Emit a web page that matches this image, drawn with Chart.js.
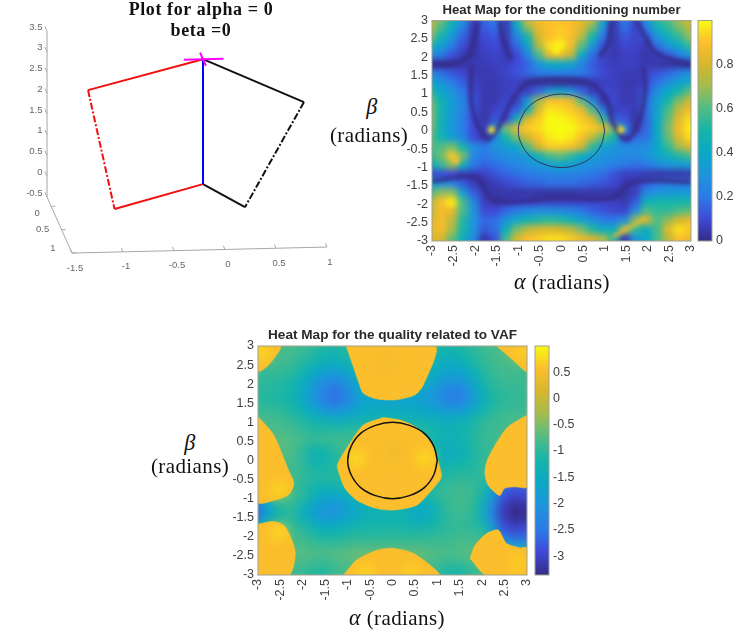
<!DOCTYPE html>
<html>
<head>
<meta charset="utf-8">
<title>Heat maps</title>
<script src="https://cdn.jsdelivr.net/npm/chart.js@4/dist/chart.umd.min.js"></script>
<style>
  body { margin: 0; background: #fff; }
  #page { position: relative; width: 747px; height: 632px; overflow: hidden; }
  canvas { position: absolute; }
  .tex { position: absolute; font-family: "Liberation Serif", serif; color: #111; white-space: nowrap; text-align: center; transform: translateX(-50%); font-size: 21px; line-height: 24px; letter-spacing: .4px; }
  .tex i { font-size: 1.05em; }
</style>
</head>
<body>
<div id="page">
  <canvas id="robot" width="345" height="290" style="left:0;top:0"></canvas>
  <canvas id="condMap" width="315" height="292" style="left:395px;top:0"></canvas>
  <canvas id="condBar" width="50" height="292" style="left:697px;top:0"></canvas>
  <canvas id="vafMap" width="325" height="288" style="left:221px;top:326px"></canvas>
  <canvas id="vafBar" width="50" height="288" style="left:534px;top:326px"></canvas>

  <div class="tex" style="left:201px;top:-1px;font-size:18px;font-weight:bold;line-height:21px;letter-spacing:.6px">Plot for alpha = 0<br>beta =0</div>
  <div class="tex" style="left:372px;top:95px"><i>β</i></div>
  <div class="tex" style="left:369px;top:123px">(radians)</div>
  <div class="tex" style="left:562px;top:270px"><i>α</i> (radians)</div>
  <div class="tex" style="left:190px;top:431px"><i>β</i></div>
  <div class="tex" style="left:190px;top:454px">(radians)</div>
  <div class="tex" style="left:397px;top:606px"><i>α</i> (radians)</div>
</div>

<script>
// grid of the heat maps
const alphaGrid = [-3,-2.75,-2.5,-2.25,-2,-1.75,-1.5,-1.25,-1,-.75,-.5,-.25,0,.25,.5,.75,1,1.25,1.5,1.75,2,2.25,2.5,2.75,3];
const betaGrid = [3,2.75,2.5,2.25,2,1.75,1.5,1.25,1,.75,.5,.25,0,-.25,-.5,-.75,-1,-1.25,-1.5,-1.75,-2,-2.25,-2.5,-2.75,-3];
const angleTicks = [-3,-2.5,-2,-1.5,-1,-.5,0,.5,1,1.5,2,2.5,3];

// conditioning number, one row per beta
const condRows = [
  [.8,.65,.5,.3,.08,.18,.22,.08,.5,.82,.88,.9,.9,.88,.85,.8,.45,.07,.22,.1,.32,.55,.6,.72,.82],
  [.75,.58,.42,.22,.06,.14,.18,.06,.38,.68,.85,.9,.92,.9,.82,.65,.3,.06,.18,.08,.22,.45,.55,.65,.75],
  [.65,.48,.32,.15,.05,.1,.13,.06,.25,.5,.8,.9,.93,.9,.75,.5,.2,.05,.13,.08,.13,.3,.45,.55,.68],
  [.5,.36,.22,.1,.04,.08,.1,.06,.16,.38,.72,.95,1,.88,.62,.34,.12,.05,.09,.08,.06,.18,.3,.42,.55],
  [.28,.2,.12,.06,.04,.07,.08,.06,.1,.24,.58,.85,.88,.78,.42,.18,.08,.05,.07,.07,.04,.08,.14,.22,.32],
  [.03,.03,.03,.04,.05,.06,.07,.07,.1,.16,.3,.42,.42,.38,.25,.14,.08,.06,.07,.07,.05,.04,.03,.03,.04],
  [.25,.18,.13,.09,.06,.05,.06,.08,.12,.16,.2,.22,.22,.22,.2,.15,.1,.07,.06,.05,.08,.12,.16,.22,.28],
  [.4,.3,.22,.14,.08,.05,.05,.07,.07,.05,.04,.03,.03,.03,.04,.06,.07,.07,.05,.05,.1,.18,.28,.36,.42],
  [.52,.4,.3,.2,.1,.05,.05,.07,.09,.07,.16,.32,.38,.3,.16,.06,.09,.08,.05,.06,.14,.28,.4,.5,.62],
  [.62,.46,.34,.24,.12,.05,.05,.09,.07,.32,.7,.9,.9,.85,.6,.25,.05,.09,.05,.06,.18,.34,.5,.66,.78],
  [.66,.48,.34,.24,.12,.04,.08,.11,.15,.45,.82,.97,.95,.92,.85,.6,.2,.07,.08,.05,.18,.38,.58,.76,.88],
  [.66,.46,.32,.22,.1,.04,.12,.1,.45,.82,.92,1,1,.97,.92,.82,.55,.15,.12,.04,.16,.4,.62,.84,.95],
  [.64,.45,.32,.22,.1,.06,.3,.65,.85,.92,.95,1,1,1,.95,.92,.85,.65,.25,.05,.16,.4,.65,.88,.98],
  [.6,.48,.36,.24,.1,.06,.25,.5,.65,.8,.9,.97,1,.97,.9,.75,.6,.5,.1,.18,.18,.4,.62,.82,.95],
  [.6,.6,.65,.5,.28,.2,.3,.35,.4,.6,.8,.92,.92,.9,.78,.55,.38,.32,.28,.25,.28,.4,.55,.7,.8],
  [.55,.64,.92,.65,.25,.2,.24,.28,.3,.35,.45,.58,.62,.55,.42,.35,.3,.28,.26,.26,.3,.38,.45,.52,.58],
  [.42,.55,.68,.45,.2,.15,.18,.22,.25,.28,.32,.36,.38,.36,.3,.28,.26,.22,.2,.18,.2,.25,.3,.32,.35],
  [.1,.1,.1,.08,.06,.07,.12,.15,.18,.2,.22,.24,.25,.24,.22,.2,.17,.12,.07,.07,.05,.04,.04,.04,.05],
  [.35,.3,.25,.14,.06,.04,.06,.09,.12,.15,.16,.18,.18,.18,.16,.14,.12,.09,.05,.06,.14,.2,.22,.22,.22],
  [.58,.68,.68,.35,.14,.06,.04,.04,.04,.04,.03,.03,.03,.03,.04,.04,.04,.04,.04,.07,.25,.3,.32,.33,.33],
  [.75,.9,.97,.58,.25,.07,.04,.06,.08,.08,.08,.08,.08,.08,.08,.08,.08,.07,.05,.14,.45,.5,.5,.5,.5],
  [.75,.88,.85,.58,.3,.1,.1,.16,.22,.26,.28,.28,.27,.24,.2,.15,.12,.09,.09,.28,.6,.55,.55,.6,.62],
  [.82,.88,.76,.52,.3,.16,.18,.3,.42,.48,.52,.54,.52,.46,.38,.28,.22,.2,.28,.68,.8,.6,.68,.8,.85],
  [.85,.88,.72,.5,.3,.13,.18,.44,.65,.75,.8,.82,.8,.75,.65,.52,.42,.45,.7,.55,.42,.58,.82,.96,.92],
  [.82,.8,.62,.44,.25,.04,.12,.58,.8,.9,.92,.95,.95,.92,.85,.8,.72,.55,.05,.3,.4,.58,.75,.9,.85]
];
// narrow low valleys of the conditioning number, [alpha, beta]
const condValleys = [
  [[-1.93,3],[-2.03,2.47],[-2.16,2.01],[-2.51,1.83],[-3,1.79]],
  [[-1.43,3],[-1.35,2.47],[-1.16,1.92]],
  [[-2.09,1.74],[-2.09,.84],[-1.93,.12],[-1.7,-.21],[-1.43,.16],[-1.12,.88],[-.77,1.31],[-.04,1.38],[.66,1.29],[1.04,.84],[1.2,.21],[1.51,-.23],[1.78,.21],[1.93,1.02],[1.9,1.74]],
  [[1.16,3],[1.08,2.38],[.89,2.01]],
  [[1.74,3],[1.93,2.56],[2.2,2.1],[2.98,1.79]],
  [[-3,-1.37],[-1.97,-1.28],[-1.58,-1.88],[-.04,-1.82],[1.2,-1.82],[1.66,-1.39],[3,-1.39]]
];
// small high spots, [alpha, beta, value]
const condPeaks = [[-1.62,.03,.95],[1.38,.03,.95],[-2.44,-.81,.9],[-2.58,-1.96,.95],[-.13,2.2,1]];
const condCrest = [[1.2,-2.88],[1.66,-2.57],[1.93,-2.38]];
const condTicks = [0,.2,.4,.6,.8];
const condRange = [0,1];

// quality related to VAF, one row per beta
const vafRows = [
  [-.7,-.7,-.75,-.8,-.85,-.95,-1.05,-1.1,-1,-.9,-.8,-.8,-.8,-.8,-.8,-.9,-1.05,-1.15,-1.15,-1,-.9,-.8,-.75,-.7,-.7],
  [-.7,-.7,-.8,-.85,-.95,-1.05,-1.2,-1.25,-1.1,-1,-.8,-.8,-.8,-.8,-.8,-1,-1.2,-1.3,-1.25,-1.1,-.95,-.85,-.75,-.7,-.7],
  [-.75,-.8,-.85,-.9,-1.05,-1.25,-1.4,-1.45,-1.3,-1.05,-.8,-.8,-.8,-.8,-.8,-1.15,-1.35,-1.5,-1.45,-1.25,-1,-.9,-.8,-.75,-.75],
  [-.9,-.95,-.95,-1,-1.25,-1.55,-1.75,-1.85,-1.7,-1.3,-.9,-.8,-.8,-.8,-.9,-1.3,-1.55,-1.75,-1.75,-1.5,-1.15,-.95,-.85,-.85,-.85],
  [-1,-1,-1.05,-1.15,-1.4,-1.8,-2.15,-2.3,-2.05,-1.55,-1,-.9,-.9,-.9,-1,-1.4,-1.75,-2,-2.05,-1.8,-1.3,-1,-.9,-.9,-.9],
  [-1.05,-1.05,-1.1,-1.2,-1.5,-1.95,-2.35,-2.55,-2.25,-1.75,-1.55,-1.5,-1.5,-1.5,-1.55,-1.75,-2.05,-2.3,-2.4,-2.05,-1.45,-1.1,-1,-.95,-.95],
  [-1.05,-1.05,-1.1,-1.2,-1.5,-1.95,-2.35,-2.55,-2.3,-1.85,-1.7,-1.75,-1.75,-1.75,-1.75,-1.85,-2.05,-2.3,-2.4,-2.1,-1.5,-1.15,-1,-.95,-.95],
  [-.95,-.95,-1,-1.1,-1.3,-1.6,-1.9,-2.05,-1.9,-1.65,-1.5,-1.5,-1.45,-1.5,-1.55,-1.65,-1.8,-1.9,-1.9,-1.65,-1.3,-1.05,-.95,-.9,-.9],
  [-.8,-.8,-.85,-.95,-1.1,-1.25,-1.35,-1.45,-1.4,-1.35,-1.3,-1.3,-1.3,-1.3,-1.3,-1.35,-1.4,-1.45,-1.4,-1.3,-1.05,-.95,-.85,-.8,-.8],
  [-.8,-.8,-.8,-.85,-.95,-1.05,-1.1,-1.1,-1.05,-1,-1,-1,-1,-1,-1,-1.1,-1.25,-1.35,-1.3,-1.15,-1,-.9,-.85,-.8,-.8],
  [-.7,-.7,-.7,-.75,-.85,-.95,-.9,-.85,-.9,-.9,-.9,-.9,-.9,-.9,-.9,-1.1,-1.25,-1.35,-1.3,-1.15,-.95,-.9,-.8,-.8,-.8],
  [-.7,-.7,-.7,-.75,-.95,-1.2,-1.2,-1,-.9,-.9,-.9,-.9,-.9,-.9,-.9,-1.15,-1.3,-1.45,-1.4,-1.2,-1,-.9,-.8,-.8,-.8],
  [-.7,-.7,-.7,-.8,-1,-1.3,-1.3,-1.05,-1,-.9,-.9,-.9,-.9,-.9,-.9,-1.15,-1.25,-1.4,-1.35,-1.2,-1,-.9,-.8,-.8,-.8],
  [-.7,-.7,-.75,-.85,-.95,-1.15,-1.15,-1.1,-1,-.9,-.9,-.9,-.9,-.9,-.9,-1.1,-1.2,-1.2,-1.15,-1.1,-1,-.9,-.85,-.8,-.8],
  [-.75,-.75,-.8,-.85,-.95,-1.05,-1.1,-1.05,-1,-1,-1,-1,-1,-1,-1,-1.05,-1.1,-1.05,-1,-1,-1,-1,-.95,-.9,-.9],
  [-.8,-.8,-.85,-.9,-1,-1.2,-1.3,-1.25,-1.15,-1.1,-1.1,-1.1,-1.1,-1.1,-1.1,-1.1,-1.05,-.95,-.9,-.9,-1.05,-1.5,-2.6,-2.8,-2.75],
  [-1.4,-1.05,-.9,-.85,-1,-1.35,-1.6,-1.65,-1.45,-1.25,-1.2,-1.2,-1.2,-1.15,-1.2,-1.2,-1.05,-.9,-.85,-.85,-1.15,-1.9,-2.85,-3,-2.95],
  [-2.6,-1.7,-1.1,-.95,-1.25,-1.7,-1.95,-2,-1.8,-1.5,-1.35,-1.3,-1.3,-1.3,-1.45,-1.5,-1.25,-.95,-.85,-.9,-1.3,-2.2,-3.05,-3.3,-3.2],
  [-2.6,-1.7,-1.15,-1,-1.35,-1.75,-2,-2,-1.75,-1.5,-1.35,-1.3,-1.3,-1.3,-1.5,-1.55,-1.3,-1,-.9,-.95,-1.35,-2.3,-3.1,-3.35,-3.3],
  [-1.4,-1.15,-1,-.95,-1.1,-1.4,-1.55,-1.55,-1.4,-1.3,-1.2,-1.2,-1.2,-1.2,-1.3,-1.3,-1.15,-1,-.95,-1,-1.15,-1.9,-2.9,-3.1,-3],
  [-.9,-.9,-.9,-.85,-.9,-1.1,-1.2,-1.2,-1.1,-1.05,-1.05,-1.05,-1.05,-1.05,-1.05,-1.05,-1,-.95,-.9,-.9,-.9,-1.5,-2.6,-2.8,-2.75],
  [-.8,-.8,-.8,-.8,-.8,-.9,-.95,-.95,-.9,-.85,-.85,-.85,-.85,-.85,-.85,-.85,-.85,-.85,-.8,-.8,-.8,-.9,-1.6,-2,-2],
  [-.7,-.7,-.7,-.7,-.7,-.75,-.8,-.7,-.7,-.6,-.6,-.6,-.6,-.6,-.6,-.7,-.75,-.8,-.75,-.7,-.7,-.7,-.8,-.9,-.9],
  [-.8,-.8,-.8,-.8,-.8,-.9,-.95,-.85,-.75,-.7,-.7,-.7,-.7,-.7,-.7,-.75,-.85,-.95,-.95,-.85,-.75,-.7,-.7,-.7,-.7],
  [-.9,-.9,-.9,-.9,-.95,-1.05,-1.1,-.9,-.8,-.7,-.7,-.7,-.7,-.7,-.7,-.8,-.95,-1.15,-1.2,-1,-.8,-.7,-.7,-.7,-.7]
];
// plateaus above zero, outlines as [alpha, beta]
const vafPlateauLevel = .55;
const plateauTop = [[-1.03,3],[-.76,2.07],[-.65,1.76],[-.35,1.61],[.09,1.59],[.5,1.72],[.69,1.98],[.95,3]];
const plateauTopLeft = [[-3,3],[-2.49,3],[-2.76,2.5],[-3,2.33]];
const plateauTopRight = [[2.32,3],[2.73,2.59],[3,2.33],[3,3]];
const plateauCentre = [[-.2,1.13],[-.65,.93],[-1.02,.32],[-1.23,-.11],[-1.2,-.3],[-1.06,-.73],[-.8,-1.04],[-.35,-1.26],[.02,-1.3],[.54,-1.17],[.91,-.73],[1.09,-.43],[1.02,-.03],[.84,.49],[.5,.89],[.17,1.06]];
const plateauLeft = [[-3,1.15],[-2.65,.67],[-2.32,-.25],[-2.2,-.6],[-2.32,-.9],[-2.8,-1.1],[-3,-1.1]];
const plateauRight = [[3,1.19],[2.54,.84],[2.13,.06],[2.06,-.33],[2.13,-.64],[2.39,-.92],[2.5,-.73],[2.73,-.69],[3,-.69]];
const plateauLowLeft = [[-3,-1.67],[-2.65,-1.6],[-2.39,-1.74],[-2.17,-2.39],[-2.3,-3],[-3,-3]];
const plateauLowRight = [[1.73,-2.57],[1.84,-2.22],[2.1,-1.91],[2.36,-1.82],[2.54,-2.17],[2.84,-2.29],[3,-2.29],[3,-3],[2.08,-3]];
const plateauBottom = [[-1.09,-3],[-.8,-2.61],[-.35,-2.35],[.02,-2.3],[.46,-2.43],[.84,-2.74],[1.04,-3]];
const vafPeaks = [[-.8,.06,.8],[.72,.06,.8],[-2.54,-.77,.75],[-2.54,-1.9,.75],[-.6,-2.95,.75],[.42,-2.9,.7],[2.8,-2.7,.7],[-2.95,2.85,.8],[2.9,2.85,.7],[0,.25,.42],[-.15,2.5,.45]];
const vafTicks = [-3,-2.5,-2,-1.5,-1,-.5,0,.5];
const vafRange = [-3.36,1];

// the unit circle on both maps
const circleAlpha = [1,.92,.71,.38,0,-.38,-.71,-.92,-1,-.92,-.71,-.38,0,.38,.71,.92,1];
const circleBeta = [0,.38,.71,.92,1,.92,.71,.38,0,-.38,-.71,-.92,-1,-.92,-.71,-.38,0];

// 3D plot, [x, y, z]
const basePoint = [-.012,0,-.05];
const topPoint = [-.012,0,2.96];
const redUpper = [-1.139,0,2.28];
const redLower = [-.879,0,-.6];
const blackUpper = [.978,0,1.87];
const blackLower = [.4,0,-.63];
const markerAlongX = [[-.2,0,2.96],[.19,0,2.96]];
const markerAlongY = [[-.012,-.14,2.96],[-.012,.14,2.96]];
const xTicks3d = [-1.5,-1,-.5,0,.5,1];
const yTicks3d = [0,.5,1];
const zTicks3d = [-.5,0,.5,1,1.5,2,2.5,3,3.5];

const parulaStops = ['#352a87','#3f4ad8','#2c7ae8','#1e94dc','#0aa8c8','#14b5aa','#50bc85','#a0bc50','#d6b62e','#fcbe2c','#f8fa12'];

function hexRgb(h) {
  return [parseInt(h.slice(1,3),16), parseInt(h.slice(3,5),16), parseInt(h.slice(5,7),16)];
}
function parula(t) {
  t = Math.min(1, Math.max(0, t)) * (parulaStops.length - 1);
  var i = Math.min(Math.floor(t), parulaStops.length - 2);
  var a = hexRgb(parulaStops[i]), b = hexRgb(parulaStops[i+1]), f = t - i;
  return `rgb(${a[0]+(b[0]-a[0])*f},${a[1]+(b[1]-a[1])*f},${a[2]+(b[2]-a[2])*f})`;
}

// the source picture is soft: a dataset with blur is drawn on a layer, then
// the layer is blurred as a whole so the cells do not show as a mosaic
const softPlugin = {
  id: 'soft',
  beforeDatasetDraw(chart, args) {
    var b = chart.data.datasets[args.index].blur;
    if (!b) return;
    var a = chart.chartArea, c = chart.ctx, meta = chart.getDatasetMeta(args.index);
    var layer = document.createElement('canvas');
    layer.width = chart.width;
    layer.height = chart.height;
    var lc = layer.getContext('2d');
    if (meta.dataset) meta.dataset.draw(lc, a);
    meta.data.forEach(el => el.draw(lc, a));
    c.save();
    c.beginPath();
    c.rect(a.left, a.top, a.width, a.height);
    c.clip();
    c.filter = `blur(${b}px)`;
    c.drawImage(layer, 0, 0);
    c.restore();
    return false;
  }
};
const framePlugin = {
  id: 'frame',
  afterDraw(chart) {
    var a = chart.chartArea, c = chart.ctx;
    c.save();
    c.strokeStyle = '#a0a090';
    c.lineWidth = 1;
    c.strokeRect(a.left, a.top, a.width, a.height);
    c.restore();
  }
};

function toXY(list) {
  return list.map(p => ({x: p[0], y: p[1]}));
}
function lineSet(points, color, width, extra) {
  return Object.assign({data: points, showLine: true, pointRadius: 0, borderColor: color, borderWidth: width, fill: false}, extra);
}

function angleAxis(isX, fixedSize) {
  return {
    type: 'linear', min: -3, max: 3,
    afterBuildTicks: s => { s.ticks = angleTicks.map(v => ({value: v})); },
    afterFit: s => {
      if (isX) { s.height = fixedSize; s.paddingLeft = 0; s.paddingRight = 0; }
      else { s.width = fixedSize; s.paddingTop = 0; s.paddingBottom = 0; }
    },
    grid: {display: false, drawTicks: false},
    border: {display: false},
    ticks: {
      autoSkip: false, padding: 4, color: '#404040',
      font: {family: 'Liberation Sans', size: 12.5},
      maxRotation: isX ? 90 : 0, minRotation: isX ? 90 : 0,
      callback: v => String(v)
    }
  };
}

function heatMap(id, rows, range, extraSets, title, opts) {
  var cells = [], colors = [];
  rows.forEach((row, r) => row.forEach((v, c) => {
    cells.push({x: alphaGrid[c], y: betaGrid[r]});
    colors.push(parula((v - range[0]) / (range[1] - range[0])));
  }));
  var sets = extraSets.concat([{
    data: cells, pointStyle: 'rect', pointRadius: opts.cellRadius, pointBorderWidth: 0,
    pointBackgroundColor: colors, blur: opts.cellBlur
  }]);
  new Chart(document.getElementById(id), {
    type: 'scatter',
    data: {datasets: sets},
    plugins: [softPlugin, framePlugin],
    options: {
      responsive: false, animation: false, events: [],
      layout: {padding: {top: 0, right: opts.padRight, bottom: 0, left: 0}},
      plugins: {
        legend: {display: false}, tooltip: {enabled: false},
        title: {
          display: true, fullSize: false, text: title, color: '#2a2a2a',
          font: {family: 'Liberation Sans', size: opts.titleSize, weight: 'bold', lineHeight: 1.2},
          padding: opts.titlePad
        }
      },
      scales: {x: angleAxis(true, opts.xHeight), y: angleAxis(false, 37)}
    }
  });
}

function colorBar(id, range, ticks, padTop, padBottom) {
  new Chart(document.getElementById(id), {
    type: 'bar',
    data: {
      labels: ['scale'],
      datasets: [{
        data: [[range[0], range[1]]],
        barPercentage: 1, categoryPercentage: 1,
        backgroundColor: ctx => {
          var a = ctx.chart.chartArea;
          if (!a) return parulaStops[0];
          var g = ctx.chart.ctx.createLinearGradient(0, a.bottom, 0, a.top);
          parulaStops.forEach((c, i) => g.addColorStop(i / (parulaStops.length - 1), c));
          return g;
        }
      }]
    },
    plugins: [framePlugin],
    options: {
      responsive: false, animation: false, events: [],
      layout: {padding: {top: padTop, bottom: padBottom, left: 1, right: 0}},
      plugins: {legend: {display: false}, tooltip: {enabled: false}},
      scales: {
        x: {display: false},
        y: {
          position: 'right', min: range[0], max: range[1],
          afterBuildTicks: s => { s.ticks = ticks.map(v => ({value: v})); },
          afterFit: s => { s.width = 35; s.paddingTop = 0; s.paddingBottom = 0; },
          grid: {display: false, drawTicks: false},
          border: {display: false},
          ticks: {padding: 4, color: '#404040', font: {family: 'Liberation Sans', size: 12.5}, callback: v => String(v)}
        }
      }
    }
  });
}

// conditioning number map
var condSets = [
  lineSet(toXY(circleAlpha.map((a, i) => [a, circleBeta[i]])), '#2b3560', 1, {tension: .4})
];
condPeaks.forEach(p => {
  condSets.push({data: [{x: p[0], y: p[1]}], pointStyle: 'circle', pointRadius: 3.5, pointBorderWidth: 0, pointBackgroundColor: parula(p[2]), blur: 2});
});
condSets.push(lineSet(toXY(condCrest), parula(.88), 3, {tension: .3, blur: 2}));
condValleys.forEach(v => {
  condSets.push(lineSet(toXY(v), parula(0), 4, {tension: .35, blur: 2}));
});
heatMap('condMap', condRows, condRange, condSets, 'Heat Map for the conditioning number',
  {cellRadius: 10, cellBlur: 3, padRight: 19, titleSize: 13.2, titlePad: {top: 2, bottom: 2.7}, xHeight: 51});
colorBar('condBar', condRange, condTicks, 20.5, 51);

// VAF map
var vafSets = [
  lineSet(toXY(circleAlpha.map((a, i) => [a, circleBeta[i]])), '#111', 1.5, {tension: .4})
];
vafPeaks.forEach(p => {
  vafSets.push({data: [{x: p[0], y: p[1]}], pointStyle: 'circle', pointRadius: 8, pointBorderWidth: 0, pointBackgroundColor: parula((p[2] - vafRange[0]) / (vafRange[1] - vafRange[0])), blur: 6});
});
[plateauTop, plateauTopLeft, plateauTopRight, plateauCentre, plateauLeft, plateauRight, plateauLowLeft, plateauLowRight, plateauBottom].forEach(p => {
  var col = parula((vafPlateauLevel - vafRange[0]) / (vafRange[1] - vafRange[0]));
  vafSets.push(lineSet(toXY(p.concat([p[0]])), col, 0.5, {fill: 'shape', backgroundColor: col, tension: .25}));
});
heatMap('vafMap', vafRows, vafRange, vafSets, 'Heat Map for the quality related to VAF',
  {cellRadius: 10, cellBlur: 4, padRight: 19, titleSize: 13.6, titlePad: {top: 1.5, bottom: 2.2}, xHeight: 39});
colorBar('vafBar', vafRange, vafTicks, 20, 39);

// 3D plot, projected on the plane of the picture
function project(p) {
  return {
    x: 204.2 + 102 * p[0] + 20.8 * p[1],
    y: 182 - 2.4 * p[0] + 46.7 * p[1] - 41.5 * p[2]
  };
}
function path3d(list) {
  return list.map(project);
}
function ticks3d(values, at, dir) {
  var out = [];
  values.forEach(v => {
    var p = at(v);
    out.push(project(p), project([p[0]+dir[0], p[1]+dir[1], p[2]+dir[2]]), {x: NaN, y: NaN});
  });
  return out;
}
const axisGrey = '#a8a8a8';
const dashDot = [7, 2, 2, 2];
const tickLabelSpots = [
  {vals: xTicks3d, at: v => [v, 1, -.5], dx: 3, dy: 15, align: 'center'},
  {vals: zTicks3d, at: v => [-1.5, -.2, v], dx: -4.5, dy: -4, align: 'right'}
];
const yLabelOffsets = [[-14,7],[-19,0],[-19,-5]];

new Chart(document.getElementById('robot'), {
  type: 'scatter',
  data: {
    datasets: [
      lineSet(path3d(markerAlongX), '#ff00ff', 2),
      lineSet(path3d(markerAlongY), '#ff00ff', 2),
      lineSet(path3d([basePoint, topPoint]), '#0000ff', 2),
      lineSet(path3d([topPoint, redUpper]), '#f01010', 2),
      lineSet(path3d([redUpper, redLower]), '#f01010', 2, {borderDash: dashDot}),
      lineSet(path3d([redLower, basePoint]), '#f01010', 2),
      lineSet(path3d([topPoint, blackUpper]), '#111', 2),
      lineSet(path3d([blackUpper, blackLower]), '#111', 2, {borderDash: dashDot}),
      lineSet(path3d([blackLower, basePoint]), '#111', 2),
      lineSet(path3d([[-1.5,-.2,-.5],[-1.5,-.2,3.5]]), axisGrey, 1),
      lineSet(path3d([[-1.5,-.2,-.5],[-1.5,1,-.5]]), axisGrey, 1),
      lineSet(path3d([[-1.5,1,-.5],[1,1,-.5]]), axisGrey, 1),
      lineSet(ticks3d(xTicks3d, v => [v, 1, -.5], [0,-.08,0]), axisGrey, 1),
      lineSet(ticks3d(yTicks3d, v => [-1.5, v, -.5], [.04,0,0]), axisGrey, 1),
      lineSet(ticks3d(zTicks3d, v => [-1.5, -.2, v], [0,-.1,0]), axisGrey, 1)
    ]
  },
  plugins: [{
    id: 'tickLabels',
    afterDatasetsDraw(chart) {
      var c = chart.ctx, sx = chart.scales.x, sy = chart.scales.y;
      c.save();
      c.font = '9.5px "Liberation Sans"';
      c.fillStyle = '#666';
      c.textBaseline = 'middle';
      tickLabelSpots.forEach(t => {
        c.textAlign = t.align;
        t.vals.forEach(v => {
          var p = project(t.at(v));
          c.fillText(String(v), sx.getPixelForValue(p.x) + t.dx, sy.getPixelForValue(p.y) + t.dy);
        });
      });
      c.textAlign = 'center';
      yTicks3d.forEach((v, i) => {
        var p = project([-1.5, v, -.5]);
        c.fillText(String(v), sx.getPixelForValue(p.x) + yLabelOffsets[i][0], sy.getPixelForValue(p.y) + yLabelOffsets[i][1]);
      });
      c.restore();
    }
  }],
  options: {
    responsive: false, animation: false, events: [],
    layout: {padding: 0},
    plugins: {legend: {display: false}, tooltip: {enabled: false}},
    scales: {
      x: {type: 'linear', min: 0, max: 345, display: false},
      y: {type: 'linear', min: 0, max: 290, reverse: true, display: false}
    }
  }
});
</script>
</body>
</html>
